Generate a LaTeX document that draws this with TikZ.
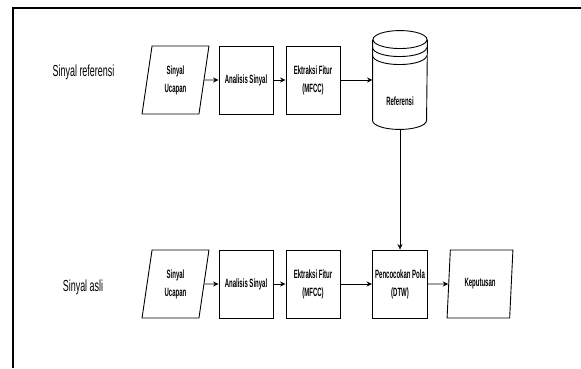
\documentclass[tikz,border=0pt]{standalone}
\usepackage{fontspec}
\setmainfont{Liberation Sans}
\newfontfamily\boxfont{Liberation Sans}[FakeStretch=0.5]
\newfontfamily\labelfont{Liberation Sans}[FakeStretch=0.56]
\usetikzlibrary{positioning,arrows.meta}
\usetikzlibrary{shapes.geometric}
\tikzset{
    >={Stealth[length=5.5pt,width=5pt]}, % small filled heads
    node distance=70pt, % changed per node below
    prosesbox/.style={draw, line width=0.9pt, minimum width=54pt, minimum height=68pt,
        inner sep=0pt, align=center, font=\boxfont\bfseries\fontsize{12}{18}\selectfont},
    iobox/.style={prosesbox, trapezium, trapezium left angle=81, trapezium right angle=99,
        trapezium stretches=true, minimum width=67pt},
    sidelabel/.style={font=\labelfont\fontsize{16}{18}\selectfont},
}

\begin{document}
\begin{tikzpicture}[x=1pt,y=-1pt,on grid,line width=0.9pt]
      \useasboundingbox (0,0) rectangle (581,368);
      \draw[line width=2.6pt] (13,368) |- (581,8);

      \node (lb_ref) [sidelabel] at (83.5,72) {Sinyal referensi};
      \node (lb_asli) [sidelabel] at (83,287) {Sinyal asli};

      \node (uc_ref) [iobox] at (175.5,80) {Sinyal\\Ucapan};
      \node (an_ref) [prosesbox, right=70.5pt of uc_ref] {Analisis Sinyal};
      \node (ek_ref) [prosesbox, right=67pt of an_ref] {Ektraksi Fitur\\(MFCC)};
      \node (db_ref) [minimum width=54pt, minimum height=98pt, inner sep=0pt, right=87pt of ek_ref] {};
      \node (db_txt) [font=\boxfont\bfseries\fontsize{12}{18}\selectfont] at ([yshift=-21pt]db_ref.center) {Referensi};

      \node (uc_asli) [iobox, below=204pt of uc_ref] {Sinyal\\Ucapan};
      \node (an_asli) [prosesbox, below=204pt of an_ref] {Analisis Sinyal};
      \node (ek_asli) [prosesbox, below=204pt of ek_ref] {Ektraksi Fitur\\(MFCC)};
      \node (pola) [prosesbox, minimum width=55pt, below=204pt of db_ref] {Pencocokan Pola\\(DTW)};
      \node (kep) [iobox, minimum width=66pt, right=80pt of pola] {Keputusan};

      % tabung data referensi
      \draw ([yshift=-9pt]db_ref.north) ellipse [x radius=27pt, y radius=9pt];
      \draw ([yshift=-9pt]db_ref.north west) -- ([yshift=9pt]db_ref.south west)
            arc [start angle=180, end angle=360, x radius=27pt, y radius=9pt]
            -- ([yshift=-9pt]db_ref.north east);
      \draw ([yshift=-17pt]db_ref.north west) arc [start angle=180, end angle=360, x radius=27pt, y radius=9pt];
      \draw ([yshift=-25pt]db_ref.north west) arc [start angle=180, end angle=360, x radius=27pt, y radius=9pt];

      \path[->]
      (uc_ref)    edge  node {} (an_ref)
      (an_ref)    edge  node {} (ek_ref)
      (ek_ref)    edge  node {} (db_ref)
      (db_ref)    edge  [line width=0.6pt] node {} (pola)
      (uc_asli)   edge  node {} (an_asli)
      (an_asli)   edge  node {} (ek_asli)
      (ek_asli)   edge  node {} (pola)
      (pola)      edge  node {} (kep)
      ;
    \end{tikzpicture}
\end{document}
